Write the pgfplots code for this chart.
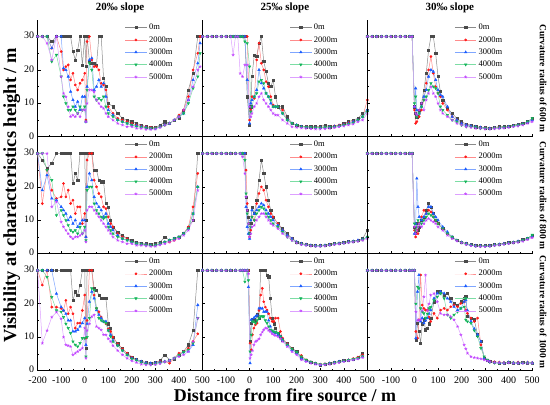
\documentclass[border=0pt]{standalone}
\usepackage{fontspec}
\setmainfont{Liberation Serif}
\usepackage{pgfplots}
\usepackage{pgfplotstable}
\pgfplotsset{compat=1.18}
\usepgfplotslibrary{groupplots}

\definecolor{cA}{HTML}{4A4A4A}\definecolor{lA}{HTML}{8A8A8A}
\definecolor{cB}{HTML}{FF1A1A}\definecolor{lB}{HTML}{FF8C8C}
\definecolor{cC}{HTML}{1A5CFF}\definecolor{lC}{HTML}{7FA6FF}
\definecolor{cD}{HTML}{14B45A}\definecolor{lD}{HTML}{7CDDA4}
\definecolor{cE}{HTML}{C040FF}\definecolor{lE}{HTML}{DDA0FF}

\pgfplotstableread{
x a b c d e
-200 30 30 30 30 30
-180 30 30 30 30 30
-160 30 30 30 30 28
-140 28.5 26.5 26.5 22.5 23
-120 30 30 30 24.5 30
-100 30 25.5 30 18 18
-90 30 20 20.5 12 13
-80 30 21 20 10 12
-70 30 21.5 18 8 9
-60 30 17 13.5 8 6
-50 25.5 19 11 9 6.5
-40 23 15.5 9 8 6
-30 26 14 10.5 7 7
-20 30 16 8 9 6
-10 21.5 17 12 8 8
0 30 19 12 9 8
5 21 5 4.5 4.5 4.5
10 30 28.5 15 14 10
20 22.5 30 23 22 14
30 22 23 23.5 20 14
40 22 21 14 12 13.5
50 21.5 21 15 11 11
60 30 20 17 11.5 10
70 30 16 15 11 9
80 17.5 15.5 16 12 8.5
90 15 14 12 9 7
100 10 9 8 7 6
120 9 7 6.5 6 5
140 7 5.5 5 5 4
160 5.5 5 4.5 4.5 3.5
180 5 4.5 4 4 3
200 4.5 4 3.5 3.5 3
220 4 3.5 3.3 3 2.5
240 3.5 3.2 3 2.8 2.5
260 3 3 2.8 2.6 2.2
280 2.8 2.8 2.5 2.5 2.2
300 2.8 2.7 2.5 2.5 2.3
320 3.5 3 3 3 2.8
340 4.5 3.5 3.5 3.5 3.5
360 4 4 4 4 4
380 5 5 5 5 5
400 5.5 6.5 6 6 6
420 8 8 7 7 8
440 14 12 11 10 11
460 19 20 17 14.5 15
480 30 25 22 18 20
490 30 30 28 25 21
}\tAA

\pgfplotstableread{
x a b c d e
-200 30 30 30 30 30
-180 30 30 30 30 30
-160 30 30 30 30 30
-140 30 30 30 30 30
-120 30 30 30 30 30
-100 30 30 30 30 30
-80 30 30 30 30 30
-70 30 30 30 30 24.5
-60 30 30 30 30 30
-50 30 30 30 30 30
-40 30 30 30 30 19
-30 30 30 30 30 18
-20 30 30 30 28.5 21.5
-10 12 30 17 28 21.5
0 3.5 5 4 21 9
5 9 8 10 7.5 6
10 18 12 11 9 7
20 24.5 11.5 12 12 9
30 24 23 14 13 10
40 28 28 20 16.5 12
50 30 22 16 17 13
60 22.5 20 14.5 16 11
70 19.5 16.5 13 13 10
80 16 15 12 12 9
90 15 12 10 11 8
100 17 9.5 9 9 7
110 12 9 9 9 6.5
120 9 9 9 9 6.5
140 9 8 7 7 5
160 6 5 5 5 4
180 4 4 4 4 3
200 3.5 3.5 3.5 3.5 2.8
220 3.2 3 3 3 2.6
240 3 3 2.9 2.9 2.5
260 3 2.9 2.8 2.8 2.4
280 3 2.8 2.7 2.7 2.3
300 3 2.8 2.7 2.7 2.3
320 3.5 2.9 2.8 2.8 2.4
340 3 3 2.9 2.9 2.5
360 3.2 3.2 3.1 3 2.7
380 3.5 3.5 3.3 3.2 3
400 4 3.8 3.6 3.5 3.2
420 4.5 4.2 4 3.8 3.5
440 5 4.6 4.5 4.2 3.8
460 5.5 5 5 5 4.5
480 7 6 6 6 5
500 8 11 8 7.5 7
}\tAB

\pgfplotstableread{
x a b c d e
-200 30 30 30 30 30
-180 30 30 30 30 30
-160 30 30 30 30 30
-140 30 30 30 30 30
-120 30 30 30 30 30
-100 30 30 30 30 30
-80 30 30 30 30 30
-60 30 30 30 30 30
-40 30 30 30 30 30
-20 30 30 30 30 30
-10 30 30 30 30 30
0 9 8 9 10 9
5 7 4 14.5 12 7
10 6 4.5 8 6 6.5
20 8 6 7 7 8
30 10 8 9 9 10
40 14 11 12 11 8
50 19 16 14 12 11
60 26 20 18 14 13
70 30 24 20 16 15
80 30 19 19.5 15 13
90 25 15 17 14.5 12
100 18 13 14 13 10
110 13.5 12 12.5 9 8
120 11 10 12 8 7
140 8.5 8 9 6.5 6
160 7 6 6 5 5
180 5.5 5 5 4.5 4
200 4.5 4 4 3.5 3.5
220 3.8 3.5 3.5 3 3
240 3.5 3.2 3.2 3 2.8
260 3 3 3 2.8 2.5
280 2.8 2.8 2.8 2.5 2.5
300 2.7 2.7 2.6 2.5 2.3
320 2.6 2.5 2.5 2.4 2.3
340 2.8 2.7 2.6 2.5 2.4
360 3 2.8 2.7 2.7 2.5
380 3 2.8 2.8 2.8 2.6
400 3.2 3 3 3 2.8
420 3.5 3.2 3.2 3.2 3
440 3.8 3.5 3.5 3.4 3.2
460 4 3.8 3.8 3.8 3.5
480 4.5 4.2 4.3 4.5 4
500 5.5 5 5 5.5 4.5
}\tAC

\pgfplotstableread{
x a b c d e
-200 30 30 30 30 30
-180 28 15 19 30 30
-160 25.5 25 23.5 25 30
-140 27 19 16.5 22 14
-120 30 16.5 16 11.5 15.5
-100 30 17 14 13 9.5
-90 30 21 13 11.5 8
-80 30 17 12 10 7
-70 30 19 10 8.5 6
-60 30 15 11 7 5
-50 21 16 9 6.5 4.5
-40 24 12 10 7 5
-30 22 14 8 6 5
-20 30 14 9 8 5.5
-10 30 9 10 6 6
0 30 12 10 8 7
5 10 5 5 4 3.5
10 30 28 20 19 13
20 30 30 24 20 14
30 30 30 22 20 14
40 25 22 17 15 13
50 25 20 15 13 12
60 22 18 14 12 11
70 21.5 17 13 11 10
80 21.5 14 11 10.5 9
90 15 13.5 12 11 8
100 14 11 9 8 7
110 10 9 8 7 6
120 8 8 7 6 5
140 6.5 6 5.5 5 4
160 5.5 5 4.5 4.5 3.5
180 4.5 4.5 4 4 3
200 4 3.5 3.5 3.5 3
220 3.5 3 3 3 2.5
240 3.2 2.8 2.8 2.8 2.5
260 3 2.7 2.7 2.6 2.3
280 2.8 2.5 2.5 2.5 2.2
300 3 2.5 2.5 2.5 2.2
320 3.5 3 3 3 2.6
340 5 3.5 3.5 3.5 3
360 4 3.5 4 4 3.5
380 4.5 4 4.5 4.5 4
400 5 5 5 5 4.5
420 6 6 6 6 5.5
440 8 8 7.5 7.5 7
460 10 14 12 12 10
480 30 24 20 20 19
}\tBA

\pgfplotstableread{
x a b c d e
-200 30 30 30 30 30
-180 30 30 30 30 30
-160 30 30 30 30 30
-140 30 30 30 30 30
-120 30 30 30 30 30
-100 30 30 30 30 30
-80 30 30 30 30 30
-60 30 30 30 30 30
-40 30 30 30 30 30
-30 30 30 30 30 29
-20 30 30 30 28 24
-15 17 25 14 18 17
-10 13 15 8 12 13
-5 11 9 6 9 9
0 6 5 4.5 6 5
5 9 7 10 8 6
10 14 11 13 11 8
20 12 10 12 10 8.5
30 16 15 13 12 10
40 22 18 14 13 11
50 28 20 15 14 12
60 24 19 14.5 13.5 12
70 20 16 13 12 11
80 16 14 12 11 10
90 13 12 11 10 9
100 11 11 10 9 8.5
120 9 9 8.5 8 7.5
140 7.5 7 7 6.5 6
160 6 5.5 5.5 5 5
180 4.5 4.5 4.5 4 4
200 3.5 3.5 3.5 3.3 3.2
220 3 3 3 2.8 2.7
240 2.8 2.7 2.7 2.6 2.5
260 2.6 2.5 2.5 2.4 2.3
280 2.5 2.4 2.4 2.3 2.2
300 2.5 2.4 2.4 2.3 2.2
320 2.6 2.5 2.5 2.4 2.3
340 2.8 2.7 2.7 2.6 2.5
360 3 2.9 2.9 2.8 2.7
380 3.2 3.1 3.1 3 2.9
400 3.4 3.3 3.3 3.2 3.1
420 3.6 3.5 3.5 3.4 3.3
440 3.8 3.7 3.7 3.6 3.5
460 4 3.9 4 3.8 3.7
480 4.5 4.2 4.3 4.2 4
500 7 5 5 5 4.5
}\tBB

\pgfplotstableread{
x a b c d e
-200 30 30 30 30 30
-180 30 30 30 30 30
-160 30 30 30 30 30
-140 30 30 30 30 30
-120 30 30 30 30 30
-100 30 30 30 30 30
-80 30 30 30 30 30
-60 30 30 30 30 30
-40 30 30 30 30 30
-20 30 30 30 30 30
-10 30 30 30 30 30
0 8 7 6 9 8
5 6 5 9 7 6
10 9 7 22.5 8 7
15 7 6 14 10 8
20 8 9 11 9 9
30 10 11 10 9 8
40 11 13 11 10 9
50 13 12 12 11 10
60 15 13 14 12 10.5
70 14 12.5 14 11.5 10
80 12 11 12 11 9.5
90 10 10 11 10 9
100 9 9 10 9 8
120 7.5 7.5 8 7.5 7
140 6 6 6.5 6 5.5
160 5 5 5 5 4.5
180 4 4 4 4 3.8
200 3.5 3.4 3.4 3.3 3.2
220 3 3 3 2.8 2.7
240 2.7 2.6 2.6 2.5 2.4
260 2.5 2.4 2.4 2.3 2.2
280 2.4 2.3 2.3 2.2 2.1
300 2.4 2.3 2.3 2.2 2.1
320 2.5 2.4 2.4 2.3 2.2
340 2.7 2.6 2.6 2.5 2.4
360 2.9 2.8 2.8 2.7 2.6
380 3.1 3 3 2.9 2.8
400 3.3 3.2 3.2 3.1 3
420 3.5 3.4 3.4 3.3 3.2
440 3.8 3.7 3.7 3.6 3.4
460 4.2 4 4 4 3.7
480 4.6 4.4 4.5 4.6 4.2
500 5.5 5 5.2 5.6 4.8
}\tBC

\pgfplotstableread{
x a b c d e
-200 30 30 30 30 30
-180 30 25.6 30 30 8.2
-160 30 30 30 28 12
-140 30 19 30 22 16
-120 30 19 23 18 17.5
-100 30 18.6 19 17.6 15.5
-90 30 18 18 16 10
-80 30 21 17 14 7.7
-70 30 17 15 12.7 7.5
-60 30 19 15 11.2 7.2
-50 21 17 11.7 8.7 4.7
-40 23.6 12.7 11.7 7.7 5.2
-30 22.6 14.2 12.2 7.2 5.7
-20 25.6 14.2 13.2 8.2 6.2
-10 30 18 14.2 9.7 6.7
0 30 22.6 15.7 9.7 12.7
5 6.7 9.7 7.7 4.2 3.7
10 30 15 14 10 12
20 30 30 20.6 15.7 14
30 30 30 23.6 24.6 16.2
40 24.6 22.6 21.6 24.1 16.7
50 24.1 18.6 18.1 18.6 13.2
60 22.6 17.6 16.7 15.7 12.7
70 21.6 16 15.7 15 12.2
80 21.6 14.7 14.7 14.7 10.7
90 21.6 14 14.7 14.2 10.7
100 14 12.5 12 12 9.5
110 12.7 11.7 10.7 10.2 8.7
120 10 10 9 8.7 7.5
140 8 8 7.5 7.5 6
160 6.5 6.5 6 6 4.7
180 5.2 5.2 4.7 4.7 3.7
200 4 4 3.7 3.5 2.9
220 3.3 3.2 3.2 3 2.4
240 2.8 2.7 2.7 2.4 1.9
260 2.4 2.3 2.3 2 1.7
280 2.2 2 2.2 1.8 1.7
300 2.4 2.3 2.3 2 1.8
320 3 2.7 2.5 2.3 2.1
340 4.7 2.7 2.7 2.6 2.6
360 3.2 2.2 3 3 3
380 3.5 3.7 3.7 3.7 3.7
400 4.7 5.2 4.5 4.7 4.2
420 5.7 5.7 5.5 5.5 4.7
440 7.7 6.7 5.7 6.2 5.7
460 12 8.7 7.7 8.2 8.7
480 30 11 19.6 15.7 15.7
}\tCA

\pgfplotstableread{
x a b c d e
-200 30 30 30 30 30
-180 30 30 30 30 30
-160 30 30 30 30 30
-140 30 30 30 30 30
-120 30 30 30 30 30
-100 30 30 30 30 30
-80 30 30 30 30 30
-60 30 30 30 30 30
-40 30 30 30 30 30
-30 30 30 30 30 30
-20 30 30 30 26.6 30
-10 30 30 30 30 30
-5 30 30 25 27 29
2 8.7 8.2 2.2 5.7 3.7
7 14.2 6.2 15.2 10.7 4.7
12 15.2 10.7 14.7 14.7 6
18 15.2 12.7 15.7 14.7 7.7
25 14.7 13.7 16.2 14.2 8.7
32 16.7 14.2 16.5 15 9
40 15.7 18 18.6 15.7 9.5
47 30 22.6 18.6 16.2 10.7
54 30 24.6 18.6 16.2 11.5
60 30 20.6 17.6 16.2 12.2
67 30 19 17.6 15 12.7
74 28.6 18.1 17.6 14.2 12.7
81 28.1 17 15 13.2 12
88 21.6 15.7 13.2 12.2 11.7
96 15.7 14.7 11.7 12 11
103 14 14.7 11.5 11.7 10.7
110 12.7 15.7 11.2 11.5 10.5
121 11 15.7 10.7 11.2 10.2
131 10.2 11.7 10.2 10.2 9.5
140 9.2 9.7 9.2 9.2 8.7
160 8 8 7.7 7.7 7.2
180 6.7 6.5 6.2 6.5 5.7
200 5.7 5.2 5.2 5.5 4.7
220 3.7 4.5 3.7 4.2 3.2
240 3.2 3.2 2.9 3.2 2.7
260 2.6 2.6 2.5 2.6 2.2
280 2.1 2.2 2.1 2.2 1.9
300 1.7 1.9 1.7 1.9 1.7
320 1.9 2 1.9 1.9 1.7
340 2.2 2.2 2.2 2.1 1.9
360 2.4 2.4 2.4 2.3 2.1
380 2.7 2.6 2.7 2.6 2.4
400 3 3 2.9 2.9 2.7
420 3.2 3.2 3.1 3.1 2.9
440 3.5 3.6 3.3 3.4 3.2
460 3.9 4 3.6 3.8 3.5
480 5.2 4.7 4.2 4.2 3.9
}\tCB

\pgfplotstableread{
x a b c d e
-200 30 30 30 30 30
-180 30 30 30 30 30
-160 30 30 30 30 30
-140 30 30 30 30 30
-120 30 30 30 30 30
-100 30 30 30 30 30
-80 30 30 30 30 30
-60 30 30 30 30 30
-40 30 30 30 30 30
-20 30 30 30 30 30
-10 30 30 30 30 30
0 30 30 30 30 30
6 9.2 11.7 9.7 20 17.6
13 14.2 9.7 23.6 25.1 15
19 11.7 15.2 28.6 24.6 15.2
26 8.2 28.6 14.7 18.6 15.2
33 14 19.6 15.7 17.6 18
40 15.2 18.6 14.2 17.1 22.1
47 12.2 18.1 15 15.7 28.6
55 12.7 18.1 15.7 17 18
62 14 16 17 18.6 20
69 15.7 14.7 18.1 19 22.6
83 20.6 17.1 21.6 21 23.1
97 23.6 15.7 23.1 22.1 20.6
111 23.6 18.1 23.6 23.1 17.1
126 22.6 18.6 23.1 21.6 16.7
140 23.1 18.1 21.6 16.7 16.7
154 21.6 19.1 20.6 15.7 16.2
168 20.1 19.6 19.1 16.7 15.2
183 19.6 19.1 18.1 17.6 13.2
197 20.6 20.1 18.6 18.6 10.7
211 21.6 20.6 20.6 19.1 7.7
218 22.1 18.1 21.1 15.2 6.5
225 16.2 17.1 18 14.7 5.2
240 15.7 15.7 14.7 14.2 4.2
254 15.2 14.7 12.5 12 3.9
268 10.7 15.7 10.7 10.2 3.7
282 8.7 7.7 8.7 6.7 3.5
296 3.7 3.7 3.7 4.2 3.2
310 3.2 3 3 3.2 2.9
320 2.7 2.8 2.7 2.5 2.6
340 2.4 2.6 2.4 2.3 2.4
360 2.3 2.5 2.3 2.2 2.3
380 2.3 2.4 2.3 2.2 2.2
400 2.4 2.5 2.5 2.4 2.3
420 2.3 2.4 2.3 2.3 2.2
440 2.3 2.5 2.3 2.2 2.2
460 2.4 2.4 2.3 2.3 2.2
480 2.3 2.5 2.4 2.3 2.2
500 2.3 2.4 2.3 2.2 2.2
}\tCC

\pgfplotsset{
  sA/.style={color=lA, line width=0.5pt, mark=square*, mark size=1.1pt, mark options={draw=cA, fill=cA}},
  sB/.style={color=lB, line width=0.5pt, mark=*, mark size=1.1pt, mark options={draw=cB, fill=cB}},
  sC/.style={color=lC, line width=0.5pt, mark=triangle*, mark size=1.4pt, mark options={draw=cC, fill=cC}},
  sD/.style={color=lD, line width=0.5pt, mark=triangle*, mark size=1.4pt, mark options={draw=cD, fill=cD, rotate=180}},
  sE/.style={color=lE, line width=0.5pt, mark=star, mark size=1.5pt, mark options={draw=cE, fill=cE}},
}

\newcommand\fiveplots[1]{%
  \addplot[sA] table[x=x,y=a]{#1};
  \addplot[sB] table[x=x,y=b]{#1};
  \addplot[sC] table[x=x,y=c]{#1};
  \addplot[sD] table[x=x,y=d]{#1};
  \addplot[sE] table[x=x,y=e]{#1};
  \legend{0m,2000m,3000m,4000m,5000m}}

\begin{document}
\begin{tikzpicture}
\begin{groupplot}[
  group style={group size=3 by 3, horizontal sep=0pt, vertical sep=0pt,
    xticklabels at=edge bottom, yticklabels at=edge left},
  scale only axis, width=165pt, height=117pt,
  xmin=-200, xmax=500, ymin=0, ymax=35,
  xtick={-200,-100,...,500}, ytick={0,10,20,30},
  minor x tick num=1, minor y tick num=1,
  axis x line*=bottom, axis y line*=left,
  tick align=inside, major tick length=3pt, minor tick length=1.8pt,
  tick style={black, line width=0.5pt},
  axis line style={black, line width=0.7pt},
  tick label style={font=\fontsize{10}{10}\selectfont},
  xticklabel style={yshift=-3pt},
  yticklabel style={yshift=1pt},
  /pgf/number format/assume math mode=true,
  legend style={draw=none, fill=none, at={(0.51,1)}, anchor=north west,
    font=\fontsize{8.5}{9.5}\selectfont, row sep=1.2pt},
  legend image code/.code={%
    \draw[mark repeat=2,mark phase=2,#1] plot coordinates {(0cm,0cm) (0.38cm,0cm) (0.76cm,0cm)};},
  legend cell align=left,
  title style={font=\bfseries\fontsize{11}{11}\selectfont, yshift=-3pt},
  clip=false,
]
\nextgroupplot[title={20‰ slope}]
\fiveplots{\tAA}
\nextgroupplot[title={25‰ slope}]
\fiveplots{\tAB}
\nextgroupplot[title={30‰ slope}]
\fiveplots{\tAC}
\node[rotate=-90, anchor=south, font=\bfseries\fontsize{9.5}{10}\selectfont] at (rel axis cs:1.025,0.5) {Curvature radius of 600 m};
\nextgroupplot[ylabel={Visibility at characteristics height / m},
  ylabel style={font=\bfseries\fontsize{18.5}{18.5}\selectfont, yshift=-3pt}]
\fiveplots{\tBA}
\nextgroupplot
\fiveplots{\tBB}
\nextgroupplot
\fiveplots{\tBC}
\node[rotate=-90, anchor=south, font=\bfseries\fontsize{9.5}{10}\selectfont] at (rel axis cs:1.025,0.5) {Curvature radius of 800 m};
\nextgroupplot
\fiveplots{\tCA}
\nextgroupplot[xticklabels={,-100,0,100,200,300,400,500},
  xlabel={Distance from fire source / m},
  xlabel style={font=\bfseries\fontsize{18}{18}\selectfont, yshift=2pt}]
\fiveplots{\tCB}
\nextgroupplot[xticklabels={,-100,0,100,200,300,400,500}]
\fiveplots{\tCC}
\node[rotate=-90, anchor=south, font=\bfseries\fontsize{9.5}{10}\selectfont] at (rel axis cs:1.025,0.5) {Curvature radius of 1000 m};
\end{groupplot}
\end{tikzpicture}
\end{document}
